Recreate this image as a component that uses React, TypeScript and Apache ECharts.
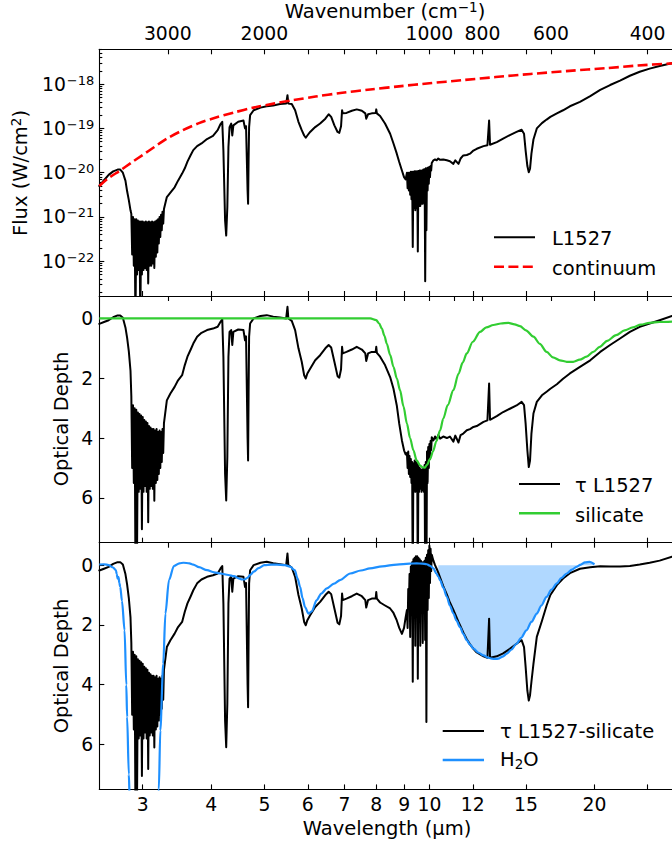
import React, { useEffect, useRef } from "react";
import * as echarts from "echarts";

// ---------------- data ----------------
// Black spectrum of L1527 on a shared wavelength grid (µm):
// tau* = optical depth (middle panel), flux* = log10 flux in W/cm^2 (top panel)

// A: 2.50–2.86 µm
const wlA = [2.5, 2.55, 2.6, 2.65, 2.7, 2.73, 2.76, 2.79, 2.81, 2.83, 2.85, 2.86];
const tauA = [0.18, 0.12, 0.06, -0.04, -0.1, -0.1, -0.02, 0.3, 0.65, 1.1, 1.75, 2.6];
const fluxA = [-20.3, -20.17, -20.05, -19.97, -19.93, -19.93, -20.0, -20.18, -20.42, -20.62, -20.85, -20.93];

// B: noisy 3 µm water-ice band, 2.87–3.28 µm
const wlB = [
  2.87, 2.88, 2.89, 2.9, 2.91, 2.92, 2.93, 2.94, 2.95, 2.96,
  2.97, 2.98, 2.99, 3.0, 3.01, 3.02, 3.03, 3.04, 3.05, 3.06,
  3.07, 3.08, 3.09, 3.1, 3.11, 3.12, 3.13, 3.14, 3.15, 3.16,
  3.17, 3.18, 3.19, 3.2, 3.21, 3.22, 3.23, 3.24, 3.25, 3.26,
  3.27, 3.28,
];
const tauB = [
  5.0, 2.9, 5.5, 3.0, 8.5, 3.05, 7.6, 3.15, 5.8, 3.2,
  5.7, 3.25, 7.05, 3.3, 5.8, 3.4, 5.6, 3.45, 5.8, 3.5,
  6.82, 3.6, 5.7, 3.65, 5.6, 3.7, 5.7, 3.7, 6.1, 3.75,
  5.5, 3.7, 5.4, 3.8, 5.2, 3.75, 5.0, 3.8, 4.8, 3.7,
  4.5, 3.5,
];
const fluxB = [
  -21.85, -21.0, -22.1, -21.05, -23.5, -21.05, -22.3, -21.08, -22.2, -21.1,
  -23.5, -21.1, -22.3, -21.1, -22.2, -21.12, -22.15, -21.1, -22.2, -21.12,
  -22.5, -21.1, -22.1, -21.12, -22.1, -21.1, -22.05, -21.12, -22.15, -21.1,
  -21.9, -21.08, -21.8, -21.05, -21.6, -21.0, -21.45, -20.95, -21.3, -20.88,
  -21.15, -20.82,
];

// C: 3.32–7.73 µm
const wlC = [
  3.32, 3.37, 3.43, 3.48, 3.54, 3.58, 3.62, 3.67, 3.71, 3.77,
  3.84, 3.93, 4.03, 4.11, 4.16, 4.19, 4.21, 4.24, 4.26, 4.28,
  4.3, 4.32, 4.35, 4.37, 4.39, 4.48, 4.58, 4.61, 4.63, 4.66,
  4.67, 4.68, 4.69, 4.71, 4.78, 4.92, 5.05, 5.19, 5.34, 5.48,
  5.51, 5.53, 5.61, 5.69, 5.77, 5.85, 5.91, 5.95, 5.99, 6.06,
  6.19, 6.32, 6.46, 6.55, 6.62, 6.71, 6.8, 6.85, 6.9, 6.93,
  6.95, 7.06, 7.22, 7.37, 7.53, 7.64, 7.67, 7.73,
];
const tauC = [
  2.74, 2.51, 2.29, 2.07, 1.9, 1.56, 1.28, 1.04, 0.84, 0.61,
  0.48, 0.39, 0.34, 0.28, 0.11, 0.03, 1.28, 5.2, 6.09, 4.64,
  1.28, 0.45, 0.39, 0.89, 0.45, 0.37, 0.39, 0.73, 0.6, 4.0,
  4.75, 2.5, 0.61, 0.17, 0.0, -0.08, -0.11, -0.06, -0.03, 0.0,
  -0.39, 0.0, 0.08, 0.39, 1.0, 1.45, 1.9, 2.01, 1.84, 1.68,
  1.4, 1.23, 1.0, 0.89, 0.97, 1.45, 1.93, 1.98, 1.7, 0.95,
  1.17, 1.12, 1.04, 0.95, 1.04, 1.17, 1.42, 1.17,
];
const fluxC = [
  -20.55, -20.45, -20.33, -20.18, -20.02, -19.9, -19.75, -19.6, -19.49, -19.4,
  -19.34, -19.24, -19.17, -19.04, -18.9, -18.85, -19.5, -21.08, -21.42, -20.78,
  -19.42, -18.97, -18.89, -19.16, -18.93, -18.85, -18.82, -19.0, -18.95, -20.4,
  -20.7, -19.7, -18.97, -18.7, -18.59, -18.53, -18.5, -18.48, -18.45, -18.44,
  -18.25, -18.44, -18.45, -18.59, -18.85, -19.04, -19.16, -19.21, -19.16, -19.08,
  -18.97, -18.89, -18.78, -18.68, -18.74, -18.93, -19.08, -19.1, -18.95, -18.59,
  -18.66, -18.65, -18.6, -18.57, -18.6, -18.66, -18.78, -18.68,
];

// F: 7.85–9.05 µm  (res* = tau L1527 - silicate, bottom panel)
const wlF = [7.85, 7.98, 8.0, 8.02, 8.13, 8.3, 8.48, 8.6, 8.72, 8.81, 8.91, 8.99, 9.05];
const tauF = [1.12, 1.12, 0.95, 1.15, 1.28, 1.56, 1.96, 2.35, 2.91, 3.52, 4.08, 4.41, 4.55];
const fluxF = [-18.66, -18.65, -18.57, -18.66, -18.72, -18.89, -19.12, -19.34, -19.57, -19.76, -19.95, -20.1, -20.15];
const resF = [1.12, 1.12, 0.9, 1.12, 1.25, 1.35, 1.45, 1.6, 1.85, 2.1, 2.3, 2.1, 1.75];

// D: noisy 9.7 µm silicate band, 9.100–10.075 µm
const wlD = [
  9.1, 9.125, 9.15, 9.175, 9.2, 9.225, 9.25, 9.275, 9.3, 9.325,
  9.35, 9.375, 9.4, 9.425, 9.45, 9.475, 9.5, 9.525, 9.55, 9.575,
  9.6, 9.625, 9.65, 9.675, 9.7, 9.725, 9.75, 9.775, 9.8, 9.825,
  9.85, 9.875, 9.9, 9.925, 9.95, 9.975, 10.0, 10.025, 10.05, 10.075,
];
const tauD = [
  4.5, 5.0, 4.45, 5.2, 4.6, 5.3, 4.7, 5.5, 4.8, 9.0,
  4.85, 5.7, 4.75, 5.8, 4.8, 5.75, 4.85, 9.0, 4.9, 5.8,
  5.0, 5.7, 5.05, 5.8, 5.05, 5.75, 5.0, 5.8, 4.9, 9.0,
  4.8, 9.0, 4.45, 5.5, 4.3, 5.0, 4.2, 4.7, 4.1, 4.4,
];
const fluxD = [
  -20.0, -20.35, -20.0, -20.4, -20.0, -20.5, -19.98, -20.6, -19.98, -21.68,
  -19.98, -20.8, -19.97, -20.85, -19.97, -20.8, -19.97, -21.78, -19.96, -20.75,
  -19.95, -20.75, -19.95, -20.7, -19.95, -20.7, -19.93, -20.6, -19.92, -22.45,
  -19.9, -21.3, -19.9, -20.4, -19.88, -20.25, -19.87, -20.1, -19.85, -19.95,
];
const resD = [
  1.5, 2.1, 0.8, 1.3, 0.3, 2.4, 0.05, 1.1, -0.1, 3.9,
  -0.2, 1.2, -0.25, 2.7, -0.3, 1.0, -0.3, 3.8, -0.25, 1.1,
  -0.2, 2.7, -0.15, 1.2, -0.1, 2.6, -0.1, 1.0, -0.15, 2.5,
  -0.25, 5.25, -0.35, 1.5, -0.5, 1.1, -0.65, 0.6, -0.55, 0.2,
];

// E: 10.10–27.70 µm
const wlE = [
  10.1, 10.17, 10.24, 10.31, 10.38, 10.46, 10.6, 10.76, 10.9, 11.06,
  11.15, 11.3, 11.4, 11.53, 11.7, 11.86, 12.03, 12.2, 12.55, 12.76,
  12.85, 12.9, 13.27, 13.63, 14.02, 14.42, 14.73, 14.88, 14.98, 15.09,
  15.18, 15.26, 15.35, 15.48, 15.7, 16.04, 16.36, 16.62, 17.08, 17.53,
  18.04, 18.82, 19.65, 20.49, 21.36, 22.27, 23.21, 24.19, 25.22, 26.3,
  27.7,
];
const tauE = [
  3.97, 4.08, 3.95, 4.05, 3.9, 4.02, 3.95, 4.0, 3.95, 4.12,
  3.92, 4.15, 3.9, 3.85, 3.74, 3.7, 3.63, 3.6, 3.46, 3.41,
  2.18, 3.39, 3.27, 3.13, 3.02, 2.91, 2.79, 2.9, 3.52, 4.41,
  4.97, 4.75, 3.85, 3.18, 2.79, 2.57, 2.45, 2.35, 2.2, 2.02,
  1.84, 1.62, 1.4, 1.12, 0.89, 0.67, 0.45, 0.28, 0.17, 0.06,
  -0.08,
];
const fluxE = [
  -19.78, -19.72, -19.7, -19.72, -19.68, -19.71, -19.7, -19.72, -19.74, -19.8,
  -19.72, -19.8, -19.68, -19.61, -19.6, -19.57, -19.5, -19.46, -19.4, -19.38,
  -18.82, -19.37, -19.31, -19.23, -19.15, -19.08, -19.03, -19.12, -19.5, -19.85,
  -19.99, -19.91, -19.57, -19.25, -19.0, -18.88, -18.8, -18.74, -18.66, -18.59,
  -18.5, -18.4, -18.27, -18.13, -18.02, -17.92, -17.81, -17.72, -17.65, -17.59,
  -17.53,
];
const resE = [
  -0.35, -0.15, 0.0, 0.12, 0.25, 0.42, 0.7, 0.98, 1.25, 1.5,
  1.65, 1.9, 2.05, 2.25, 2.48, 2.65, 2.8, 2.92, 3.05, 3.1,
  1.79, 3.1, 3.05, 2.95, 2.8, 2.63, 2.51, 2.74, 3.4, 4.2,
  4.53, 4.35, 3.9, 3.3, 2.4, 1.87, 1.35, 1.0, 0.67, 0.45,
  0.27, 0.12, 0.07, 0.04, 0.05, 0.05, 0.03, -0.02, -0.08, -0.15,
  -0.28,
];

// Continuum (red dashed), log10 flux
const contWl = [2.5, 2.6, 2.73, 2.87, 3.0, 3.15, 3.32, 3.55, 3.8, 4.04, 4.4, 4.78, 5.2, 5.65, 6.2, 6.88, 7.8, 8.8, 10.0, 11.5, 13.2, 15.3, 18.0, 21.0, 24.0, 27.7];
const contFlux = [-20.3, -20.12, -19.95, -19.76, -19.6, -19.42, -19.23, -19.04, -18.88, -18.77, -18.64, -18.53, -18.44, -18.36, -18.28, -18.2, -18.12, -18.05, -17.98, -17.91, -17.84, -17.77, -17.7, -17.64, -17.58, -17.53];

// Silicate model (green)
const silWl = [
  2.5, 7.8, 8.0, 8.1, 8.19, 8.28, 8.36, 8.48, 8.6, 8.72,
  8.84, 8.97, 9.1, 9.22, 9.35, 9.48, 9.62, 9.72, 9.8, 9.9,
  10.03, 10.15, 10.3, 10.46, 10.6, 10.8, 11.06, 11.3, 11.5, 11.7,
  12.0, 12.37, 12.7, 13.08, 13.5, 13.93, 14.3, 14.63, 15.0, 15.48,
  15.9, 16.36, 16.8, 17.3, 17.8, 18.29, 18.8, 19.35, 19.9, 20.45,
  21.1, 21.9, 22.7, 23.5, 24.3, 25.2, 26.3, 27.7,
];
const silTau = [
  0.0, 0.0, 0.06, 0.17, 0.34, 0.58, 0.84, 1.22, 1.62, 2.0,
  2.4, 2.95, 3.52, 4.0, 4.41, 4.75, 4.92, 4.98, 4.99, 4.9,
  4.7, 4.45, 4.1, 3.74, 3.35, 2.9, 2.4, 1.85, 1.48, 1.17,
  0.78, 0.45, 0.3, 0.22, 0.17, 0.15, 0.2, 0.26, 0.4, 0.61,
  0.85, 1.12, 1.3, 1.4, 1.45, 1.45, 1.38, 1.28, 1.12, 0.95,
  0.75, 0.56, 0.4, 0.3, 0.21, 0.15, 0.12, 0.11,
];

// H2O ice model (blue)
const h2oWl = [
  2.5, 2.55, 2.6, 2.65, 2.68, 2.69, 2.7, 2.71, 2.72, 2.73,
  2.75, 2.78, 2.8, 2.81, 2.83, 2.84, 2.87, 3.0, 3.17, 3.21,
  3.23, 3.27, 3.3, 3.35, 3.42, 3.5, 3.56, 3.65, 3.71, 3.8,
  3.93, 4.05, 4.16, 4.3, 4.4, 4.5, 4.55, 4.6, 4.65, 4.72,
  4.78, 4.88, 5.0, 5.15, 5.27, 5.45, 5.57, 5.68, 5.75, 5.81,
  5.87, 5.93, 6.02, 6.1, 6.23, 6.35, 6.5, 6.7, 6.87, 7.17,
  7.5, 7.79, 8.2, 8.72, 9.2, 9.48, 9.7, 9.89, 10.03, 10.17,
  10.3, 10.38, 10.46, 10.6, 10.76, 10.9, 11.06, 11.2, 11.37, 11.53,
  11.7, 11.86, 12.03, 12.3, 12.55, 12.8, 12.99, 13.2, 13.36, 13.6,
  13.85, 14.1, 14.42, 14.7, 15.03, 15.35, 15.7, 16.0, 16.36, 16.7,
  17.08, 17.4, 17.8, 18.2, 18.55, 18.9, 19.22, 19.6, 20.0,
];
const h2oTau = [
  -0.02, -0.03, 0.0, 0.08, 0.17, 0.3, 0.45, 0.4, 0.6, 0.73,
  1.2, 2.18, 4.0, 5.08, 7.0, 7.8, 9.5, 11.0, 9.5, 7.5,
  5.53, 3.3, 1.62, 0.5, 0.03, -0.06, -0.08, -0.06, -0.02, 0.07,
  0.17, 0.24, 0.28, 0.33, 0.37, 0.45, 0.48, 0.48, 0.43, 0.32,
  0.22, 0.1, 0.0, -0.02, -0.02, 0.0, 0.05, 0.17, 0.45, 0.73,
  1.1, 1.4, 1.62, 1.55, 1.17, 0.95, 0.78, 0.62, 0.5, 0.28,
  0.18, 0.11, 0.04, -0.02, -0.05, -0.06, -0.05, -0.03, 0.02, 0.11,
  0.28, 0.38, 0.5, 0.75, 1.06, 1.35, 1.62, 1.85, 2.07, 2.3,
  2.51, 2.66, 2.79, 2.93, 3.02, 3.09, 3.13, 3.14, 3.13, 3.06,
  2.96, 2.83, 2.63, 2.43, 2.18, 1.9, 1.62, 1.35, 1.06, 0.82,
  0.61, 0.43, 0.28, 0.15, 0.06, -0.02, -0.09, -0.11, -0.03,
];
const h2oFillFrom = 10.38; // shaded H2O libration band starts here (µm)

// Axis ticks
const wavelengthLabels = [3, 4, 5, 6, 7, 8, 9, 10, 12, 15, 20];
const wavelengthTicks = [3, 4, 5, 6, 7, 8, 9, 10, 12, 15, 20, 25];
const topTicks = [3.333, 4, 5, 6, 7, 8, 9, 10, 11.11, 12, 12.5, 15, 16.67, 20, 25];
const wavenumberLabels = [3000, 2000, 1000, 800, 600, 400];
const fluxExponents = [-22, -21, -20, -19, -18];
const depthTicks = [0, 2, 4, 6];

// ---------------- layout / style ----------------
const FONT = "'DejaVu Sans', sans-serif";
const TICK_FS = 18.8;
const lg = Math.log10;
const X_MIN = lg(2.5);
const X_MAX = lg(27.7);
const F_MIN = -22.785;
const F_MAX = -17.213;
const D_MIN = -0.75;
const D_MAX = 7.5;
const LEFT = 99.3;
const TOPS = [49.3, 296, 542.7];
const H = 246.7;
const AX = "#000";

function pts(xs: number[], ys: number[]) {
  const n = Math.min(xs.length, ys.length);
  const out: number[][] = [];
  for (let i = 0; i < n; i++) out.push([lg(xs[i]), ys[i]]);
  return out;
}

function buildOption() {
  const wlAll = [...wlA, ...wlB, ...wlC, ...wlF, ...wlD, ...wlE];
  const tauAll = [...tauA, ...tauB, ...tauC, ...tauF, ...tauD, ...tauE];
  const fluxAll = [...fluxA, ...fluxB, ...fluxC, ...fluxF, ...fluxD, ...fluxE];
  const resAll = [...tauA, ...tauB, ...tauC, ...resF, ...resD, ...resE];

  const fillWl: number[] = [];
  const fillTau: number[] = [];
  h2oWl.forEach((w, i) => {
    if (w >= h2oFillFrom) {
      fillWl.push(w);
      fillTau.push(h2oTau[i]);
    }
  });

  const minorFlux: number[] = [];
  for (let e = -23; e <= -18; e++) {
    for (let k = 2; k <= 9; k++) {
      const v = e + lg(k);
      if (v > F_MIN && v < F_MAX) minorFlux.push(v);
    }
  }

  const tickStyle = { color: AX, width: 1.1 };
  const lineStyleAx = { show: true, onZero: false, lineStyle: { color: AX, width: 1.1 } };
  const labelBase = { color: AX, fontFamily: FONT, fontSize: TICK_FS };

  const grids: any[] = [0, 1, 2].map((i) => ({
    left: LEFT, right: 0, top: TOPS[i], height: H, outerBoundsMode: "none", containLabel: false,
  }));
  grids.push({ left: LEFT, right: 0, top: TOPS[0], height: H, outerBoundsMode: "none", containLabel: false });

  const xAxes: any[] = [];
  [0, 1, 2].forEach((i) => {
    xAxes.push({
      type: "value", gridIndex: i, min: X_MIN, max: X_MAX, position: "bottom",
      axisLine: lineStyleAx,
      axisTick: { show: true, inside: true, length: 5, lineStyle: tickStyle, customValues: wavelengthTicks.map(lg) },
      axisLabel: {
        show: i === 2, ...labelBase, margin: 6,
        customValues: wavelengthLabels.map(lg),
        formatter: (v: number) => String(Math.round(Math.pow(10, v))),
      },
      splitLine: { show: false },
    });
    xAxes.push({
      type: "value", gridIndex: i, min: X_MIN, max: X_MAX, position: "top",
      axisLine: lineStyleAx,
      axisTick: { show: true, inside: true, length: 5, lineStyle: tickStyle, customValues: topTicks.map(lg) },
      axisLabel: {
        show: i === 0, ...labelBase, margin: 6,
        customValues: wavenumberLabels.map((n) => lg(1e4 / n)),
        formatter: (v: number) => String(Math.round(1e4 / Math.pow(10, v))),
      },
      splitLine: { show: false },
    });
  });
  xAxes.push({ type: "value", gridIndex: 3, min: X_MIN, max: X_MAX, show: false });

  const yAxes: any[] = [
    {
      type: "value", gridIndex: 0, min: F_MIN, max: F_MAX, position: "left",
      axisLine: lineStyleAx,
      axisTick: { show: true, inside: true, length: 5, lineStyle: tickStyle, customValues: fluxExponents },
      axisLabel: {
        margin: 5, customValues: fluxExponents,
        formatter: (v: number) => `{b|10}{s|\u2212${Math.round(-v)}}`,
        rich: {
          b: { fontFamily: FONT, fontSize: TICK_FS, color: AX },
          s: { fontFamily: FONT, fontSize: 13, color: AX, padding: [0, 0, 8, 1] },
        },
      },
      splitLine: { show: false },
    },
    ...[1, 2].map((g) => ({
      type: "value", gridIndex: g, min: D_MIN, max: D_MAX, inverse: true, position: "left",
      axisLine: lineStyleAx,
      axisTick: { show: true, inside: true, length: 5, lineStyle: tickStyle, customValues: depthTicks },
      axisLabel: { ...labelBase, margin: 6, customValues: depthTicks, formatter: (v: number) => String(v) },
      splitLine: { show: false },
    })),
    {
      type: "value", gridIndex: 3, min: F_MIN, max: F_MAX, position: "left",
      axisLine: { show: false, onZero: false },
      axisTick: { show: true, inside: true, length: 3, lineStyle: tickStyle, customValues: minorFlux },
      axisLabel: { show: false },
      splitLine: { show: false },
    },
  ];

  const blackLine = { color: "#000", width: 2, join: "round", cap: "round" };
  const base = { type: "line", showSymbol: false, symbol: "none", silent: true, clip: true, animation: false };

  const series: any[] = [
    { ...base, name: "L1527", xAxisIndex: 0, yAxisIndex: 0, data: pts(wlAll, fluxAll), lineStyle: blackLine },
    {
      ...base, name: "continuum", xAxisIndex: 0, yAxisIndex: 0, data: pts(contWl, contFlux),
      smooth: 0.3, lineStyle: { color: "#ff0000", width: 2.6, type: [10, 4.4] },
    },
    { ...base, name: "tau", xAxisIndex: 2, yAxisIndex: 1, data: pts(wlAll, tauAll), lineStyle: blackLine },
    {
      ...base, name: "silicate", xAxisIndex: 2, yAxisIndex: 1, data: pts(silWl, silTau),
      smooth: 0.3, smoothMonotone: "x", lineStyle: { color: "#32cd32", width: 2.2 },
    },
    {
      ...base, name: "fill", xAxisIndex: 4, yAxisIndex: 2, data: pts(fillWl, fillTau),
      smooth: 0.3, smoothMonotone: "x", lineStyle: { width: 0, opacity: 0 },
      areaStyle: { color: "rgba(30,144,255,0.5)", origin: "auto" },
    },
    { ...base, name: "residual", xAxisIndex: 4, yAxisIndex: 2, data: pts(wlAll, resAll), lineStyle: blackLine },
    {
      ...base, name: "H2O", xAxisIndex: 4, yAxisIndex: 2, data: pts(h2oWl, h2oTau),
      smooth: 0.3, smoothMonotone: "x", lineStyle: { color: "#1e90ff", width: 2.2 },
    },
  ];

  const T = (x: number, y: number, text: string, rich: any, extra: any = {}) => ({
    type: "text", x, y, silent: true, ...extra,
    style: { text, rich, fill: "#000", fontFamily: FONT, fontSize: 19.5, align: "left", verticalAlign: "middle" },
  });
  const richA = {
    a: { fontFamily: FONT, fontSize: 19.5, fill: "#000" },
    s: { fontFamily: FONT, fontSize: 13.5, fill: "#000", padding: [0, 0, 9, 0] },
    d: { fontFamily: FONT, fontSize: 13.5, fill: "#000", padding: [9, 0, 0, 0] },
  };
  const centered = (g: any) => ({ ...g, style: { ...g.style, align: "center" } });
  const L = (x1: number, x2: number, y: number, color: string, dash?: number[]) => ({
    type: "line", silent: true, shape: { x1, y1: y, x2, y2: y },
    style: { stroke: color, lineWidth: color === "#000" ? 2 : 2.4, lineDash: dash || null },
  });

  const graphic: any[] = [
    centered(T(385, 11, "{a|Wavenumber (cm}{s|\u22121}{a|)}", richA)),
    centered(T(387, 828.5, "{a|Wavelength (\u00b5m)}", richA)),
    centered(T(20.7, 173, "{a|Flux (W/cm}{s|2}{a|)}", richA, { rotation: Math.PI / 2 })),
    centered(T(61.3, 419, "{a|Optical Depth}", richA, { rotation: Math.PI / 2 })),
    centered(T(61.3, 666, "{a|Optical Depth}", richA, { rotation: Math.PI / 2 })),
    // legends
    L(494, 535, 237.3, "#000"),
    T(552, 238.3, "{a|L1527}", richA),
    L(494, 535, 266.7, "#ff0000", [10, 4.4]),
    T(552, 268, "{a|continuum}", richA),
    L(519, 560, 484, "#000"),
    T(575, 485, "{a|\u03c4 L1527}", richA),
    L(519, 560, 513.3, "#32cd32"),
    T(575, 515, "{a|silicate}", richA),
    L(442.7, 484, 731, "#000"),
    T(500, 731.4, "{a|\u03c4 L1527-silicate}", richA),
    L(442.7, 484, 760, "#1e90ff"),
    T(500, 759.5, "{a|H}{d|2}{a|O}", richA),
  ];

  return {
    animation: false,
    backgroundColor: "#fff",
    grid: grids,
    xAxis: xAxes,
    yAxis: yAxes,
    series,
    graphic,
  };
}

export default function App() {
  const ref = useRef<HTMLDivElement>(null);
  useEffect(() => {
    if (!ref.current) return;
    const chart = echarts.init(ref.current, null, { renderer: "svg" });
    chart.setOption(buildOption() as any);
    return () => chart.dispose();
  }, []);
  return (
    <div style={{ position: "absolute", left: 0, top: 0, width: 672, height: 847, overflow: "hidden", background: "#fff" }}>
      <div ref={ref} style={{ width: 672, height: 847 }} />
    </div>
  );
}
